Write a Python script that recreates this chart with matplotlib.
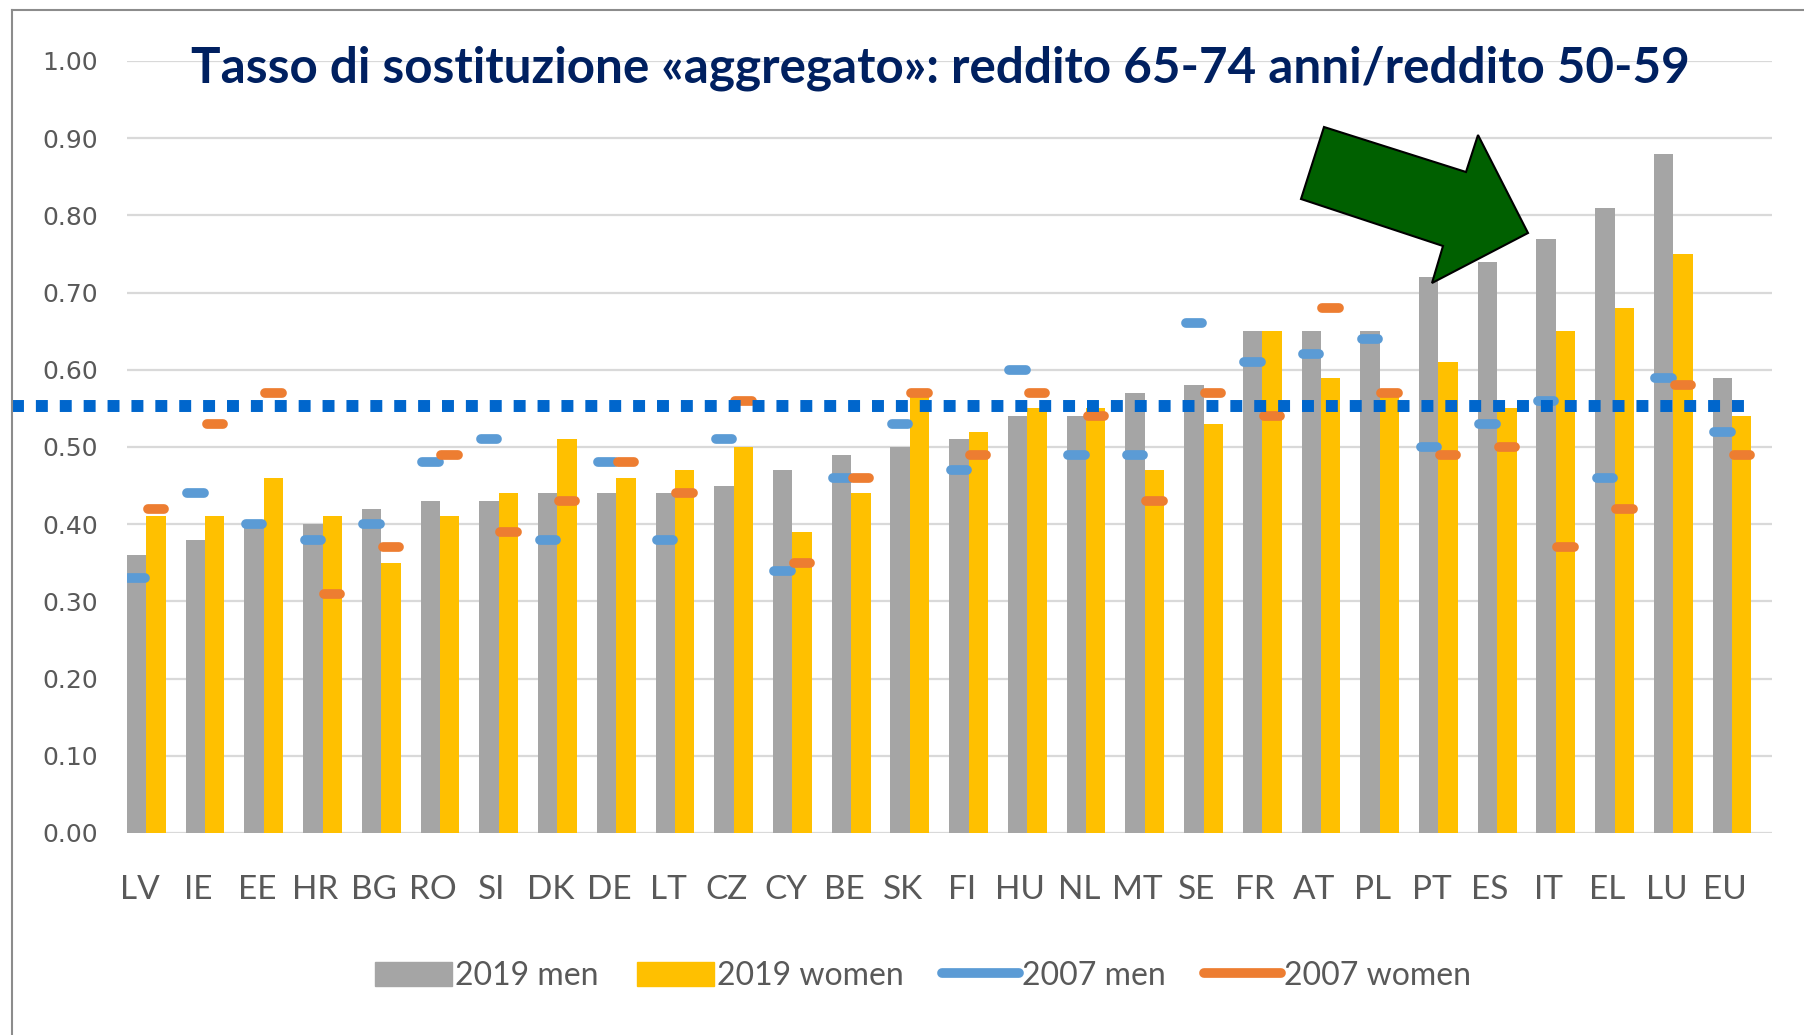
import numpy as np
import matplotlib.pyplot as plt
from matplotlib.patches import Patch, Polygon
from matplotlib.lines import Line2D
from matplotlib.transforms import ScaledTranslation

# dati
paesi = ['LV', 'IE', 'EE', 'HR', 'BG', 'RO', 'SI', 'DK', 'DE', 'LT', 'CZ', 'CY', 'BE', 'SK',
         'FI', 'HU', 'NL', 'MT', 'SE', 'FR', 'AT', 'PL', 'PT', 'ES', 'IT', 'EL', 'LU', 'EU']
uomini_2019 = [0.36, 0.38, 0.40, 0.40, 0.42, 0.43, 0.43, 0.44, 0.44, 0.44, 0.45, 0.47, 0.49, 0.50,
               0.51, 0.54, 0.54, 0.57, 0.58, 0.65, 0.65, 0.65, 0.72, 0.74, 0.77, 0.81, 0.88, 0.59]
donne_2019 = [0.41, 0.41, 0.46, 0.41, 0.35, 0.41, 0.44, 0.51, 0.46, 0.47, 0.50, 0.39, 0.44, 0.57,
              0.52, 0.55, 0.55, 0.47, 0.53, 0.65, 0.59, 0.57, 0.61, 0.55, 0.65, 0.68, 0.75, 0.54]
uomini_2007 = [0.33, 0.44, 0.40, 0.38, 0.40, 0.48, 0.51, 0.38, 0.48, 0.38, 0.51, 0.34, 0.46, 0.53,
               0.47, 0.60, 0.49, 0.49, 0.66, 0.61, 0.62, 0.64, 0.50, 0.53, 0.56, 0.46, 0.59, 0.52]
donne_2007 = [0.42, 0.53, 0.57, 0.31, 0.37, 0.49, 0.39, 0.43, 0.48, 0.44, 0.56, 0.35, 0.46, 0.57,
              0.49, 0.57, 0.54, 0.43, 0.57, 0.54, 0.68, 0.57, 0.49, 0.50, 0.37, 0.42, 0.58, 0.49]
soglia = 0.553
etichette_y = ['0.00', '0.10', '0.20', '0.30', '0.40', '0.50', '0.60', '0.70', '0.80', '0.90', '1.00']
titolo = 'Tasso di sostituzione «aggregato»: reddito 65-74 anni/reddito 50-59'

grigio = '#A5A5A5'
giallo = '#FFC000'
blu = '#5B9BD5'
arancio = '#ED7D31'
testo = '#595959'
stretto = ['Lato', 'DejaVu Sans']

W, H = 1804, 1035
fig = plt.figure(figsize=(W / 100, H / 100), dpi=100)
ax = fig.add_axes([127 / W, 1 - 833 / H, (1772 - 127) / W, (833 - 61) / H])

x = np.arange(len(paesi))
w = 0.33
ax.bar(x - w / 2, uomini_2019, w, color=grigio, zorder=2)
ax.bar(x + w / 2, donne_2019, w, color=giallo, zorder=2)

# trattini 2007
m = 0.14
ax.hlines(uomini_2007, x - w / 2 - m, x - w / 2 + m, colors=blu, lw=7, capstyle='round', zorder=3)
ax.hlines(donne_2007, x + w / 2 - m, x + w / 2 + m, colors=arancio, lw=7, capstyle='round', zorder=3)

# linea tratteggiata di riferimento
ax.plot([-2.28, 27.27], [soglia, soglia], color='#0066CC', lw=8.6,
        linestyle=(0, (1, 1)), dash_capstyle='butt', clip_on=False, zorder=5)

ax.set_xlim(-0.33, 27.68)
ax.set_ylim(0, 1.0)
ax.set_yticks(np.arange(11) / 10)
ax.set_yticklabels(etichette_y)
ax.set_xticks(x)
ax.set_xticklabels(paesi)
for s in ax.spines.values():
    s.set_visible(False)
ax.grid(axis='y', color='#D9D9D9', lw=1.6, zorder=0)
ax.set_axisbelow(True)
ax.tick_params(axis='both', length=0)
ax.tick_params(axis='y', pad=21, labelsize=18, labelcolor=testo)
ax.tick_params(axis='x', pad=30, labelcolor=testo)
for t in ax.get_xticklabels():
    t.set_fontfamily(stretto)
    t.set_fontsize(24)
    t.set_transform(t.get_transform() + ScaledTranslation(-0.07, 0, fig.dpi_scale_trans))

# titolo
fig.text(940 / W, 1 - 68 / H, titolo, ha='center', va='center', fontsize=35.6,
         fontweight='bold', color='#002060', family=['Lato', 'DejaVu Sans'])

# freccia verde
punti = [(1324, 127), (1466, 172), (1478, 135), (1528, 233), (1432, 283), (1443, 246), (1301, 199)]
fig.patches.append(Polygon([(px / W, 1 - py / H) for px, py in punti], closed=True,
                           transform=fig.transFigure, facecolor='#006000',
                           edgecolor='black', lw=1.5, zorder=10))

# cornice
fig.add_artist(Line2D([12 / W, 12 / W], [0, 1 - 10 / H], color='#8C8C8C', lw=1.5))
fig.add_artist(Line2D([12 / W, 1], [1 - 10 / H, 1 - 10 / H], color='#8C8C8C', lw=1.5))

maniglie = [Patch(color=grigio), Patch(color=giallo),
            Line2D([], [], color=blu, lw=7, solid_capstyle='round'),
            Line2D([], [], color=arancio, lw=7, solid_capstyle='round')]
leg = fig.legend(maniglie, ['2019 men', '2019 women', '2007 men', '2007 women'],
                 loc='center', bbox_to_anchor=(923 / W, 1 - 976 / H), ncol=4, frameon=False,
                 prop={'family': stretto, 'size': 23}, handlelength=2.4,
                 handleheight=0.8, handletextpad=0.1, columnspacing=1.2)
for t in leg.get_texts():
    t.set_color(testo)

fig.savefig('out.png', dpi=100)
